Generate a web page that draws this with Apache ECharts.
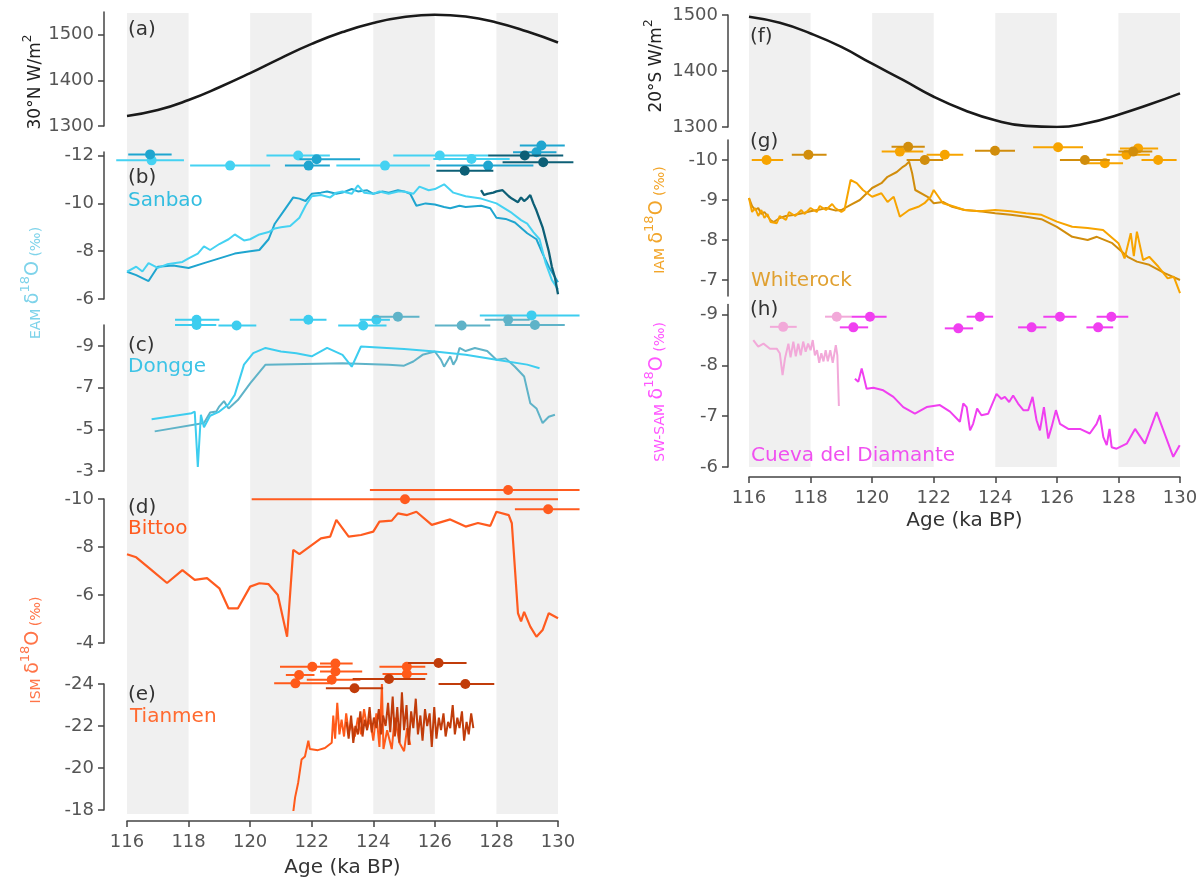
<!DOCTYPE html>
<html>
<head>
<meta charset="utf-8">
<script src="https://cdn.jsdelivr.net/npm/echarts@6.0.0/dist/echarts.min.js"></script>
<style>
  html, body { margin: 0; padding: 0; background: #fff; }
  #chart { width: 1200px; height: 881px; }
</style>
</head>
<body>
<div id="chart"></div>
<script>
// grey age bands (ka BP)
const bandRanges = [[116, 118], [120, 122], [124, 126], [128, 130]];

// (a) 30°N insolation and (f) 20°S insolation
const insol30N = [[116,1322],[117,1335],[118,1357],[119,1385],[120,1416],[121,1449],[122,1480],[123,1506],[124,1526],[125,1539],[126,1544],[127,1540],[128,1527],[129,1507],[130,1483]];
const insol20S = [[116,1497],[117,1486],[118,1467],[119,1443],[120,1413],[121,1384],[122,1354],[123,1330],[124,1312],[125,1302],[126,1300],[127,1307],[128,1322],[129,1340],[130,1360]];

// (b) Sanbao
const sanbaoLight = [[116.0,-7.14],[116.3,-7.35],[116.5,-7.15],[116.7,-7.5],[117.0,-7.3],[117.3,-7.45],[117.8,-7.55],[118.0,-7.7],[118.3,-7.9],[118.5,-8.2],[118.7,-8.05],[119.0,-8.3],[119.3,-8.5],[119.5,-8.7],[119.8,-8.45],[120.0,-8.5],[120.3,-8.7],[120.6,-8.8],[120.8,-8.95],[121.0,-9.0],[121.3,-9.05],[121.6,-9.4],[121.8,-9.9],[122.0,-10.3],[122.3,-10.35],[122.6,-10.25],[122.8,-10.45],[123.0,-10.5],[123.3,-10.4],[123.5,-10.75],[123.7,-10.45],[124.0,-10.4],[124.2,-10.5],[124.5,-10.4],[124.8,-10.5],[125.0,-10.5],[125.3,-10.4],[125.5,-10.7],[125.8,-10.55],[126.0,-10.6],[126.3,-10.8],[126.6,-10.45],[127.0,-10.3],[127.5,-10.2],[128.0,-10.0],[128.5,-9.6],[128.8,-9.3],[129.0,-9.15],[129.2,-8.8],[129.4,-8.5],[129.6,-7.5],[129.8,-6.8],[130.0,-6.4]];
const sanbaoMid = [[116.0,-7.14],[116.3,-7.0],[116.7,-6.75],[117.0,-7.35],[117.5,-7.4],[118.0,-7.3],[118.5,-7.5],[119.0,-7.7],[119.5,-7.9],[120.0,-8.0],[120.3,-8.05],[120.6,-8.5],[120.8,-9.15],[121.1,-9.7],[121.4,-10.25],[121.6,-10.2],[121.8,-10.1],[122.0,-10.4],[122.3,-10.45],[122.5,-10.5],[122.8,-10.4],[123.0,-10.45],[123.3,-10.6],[123.5,-10.5],[123.8,-10.55],[124.0,-10.4],[124.3,-10.5],[124.5,-10.45],[124.8,-10.55],[125.0,-10.5],[125.2,-10.4],[125.4,-9.9],[125.7,-10.0],[126.0,-9.95],[126.3,-9.85],[126.5,-9.8],[126.8,-9.9],[127.0,-9.85],[127.5,-9.9],[127.8,-9.8],[128.0,-9.4],[128.3,-9.35],[128.6,-9.2],[129.0,-8.75],[129.3,-8.5],[129.5,-7.9],[129.7,-7.35],[130.0,-6.7]];
const sanbaoDark = [[127.5,-10.55],[127.6,-10.35],[127.7,-10.4],[127.9,-10.45],[128.0,-10.5],[128.2,-10.55],[128.4,-10.3],[128.5,-10.2],[128.7,-10.05],[128.8,-10.25],[128.9,-10.1],[129.0,-10.2],[129.1,-10.35],[129.2,-10.0],[129.3,-9.7],[129.5,-9.0],[129.7,-8.0],[129.8,-7.35],[129.9,-6.9],[130.0,-6.2]];
// dates: [age, min, max, plotting row]
const sanbaoDatesLight = [[116.8,115.65,117.85,-11.8],[119.35,118.05,120.65,-11.58],[121.56,120.53,122.59,-12.0],[124.38,122.8,125.84,-11.58],[126.16,124.65,127.73,-12.0],[127.19,125.95,128.43,-11.86]];
const sanbaoDatesMid = [[116.75,116.04,117.45,-12.05],[121.9,121.13,122.59,-11.58],[122.16,121.6,123.57,-11.85],[127.73,126.05,129.2,-11.58],[129.46,128.76,130.22,-12.42],[129.3,128.54,129.95,-12.14]];
const sanbaoDatesDark = [[126.97,126.05,127.9,-11.37],[128.92,127.73,130.17,-12.0],[129.52,128.2,130.5,-11.72]];

// (c) Dongge
const donggeLight = [[116.8,-5.48],[118.1,-5.77],[118.2,-5.85],[118.3,-3.2],[118.4,-5.7],[118.5,-5.1],[118.7,-5.65],[119.0,-5.85],[119.3,-6.2],[119.5,-6.65],[119.8,-8.1],[120.1,-8.65],[120.5,-8.9],[121.0,-8.73],[121.5,-8.65],[122.0,-8.5],[122.5,-8.9],[123.0,-8.57],[123.3,-8.0],[123.6,-8.97],[125.0,-8.85],[126.0,-8.73],[127.0,-8.57],[128.0,-8.33],[129.0,-8.1],[129.4,-7.93]];
const donggeTeal = [[116.9,-4.9],[118.5,-5.3],[118.7,-5.8],[118.9,-5.85],[119.0,-6.1],[119.15,-6.35],[119.3,-6.0],[119.6,-6.4],[120.0,-7.2],[120.5,-8.1],[123.0,-8.17],[124.5,-8.1],[125.0,-8.05],[125.3,-8.25],[125.6,-8.57],[126.0,-8.73],[126.2,-8.33],[126.3,-8.0],[126.5,-8.5],[126.6,-8.1],[126.7,-8.35],[126.8,-8.9],[127.0,-8.75],[127.3,-8.9],[127.7,-8.75],[128.0,-8.33],[128.3,-8.4],[128.6,-8.0],[128.9,-7.53],[129.1,-6.25],[129.3,-6.0],[129.5,-5.3],[129.7,-5.6],[129.9,-5.7]];
const donggeDatesLight = [[118.26,117.56,119.0,-10.25],[118.26,117.56,118.9,-10.0],[119.56,118.97,120.2,-9.98],[121.89,121.29,122.48,-10.25],[123.67,122.86,124.43,-9.98],[124.1,123.56,124.54,-10.25],[129.14,127.46,130.7,-10.46]];
const donggeDatesTeal = [[124.8,124.0,125.5,-10.4],[126.87,126.0,127.8,-9.98],[128.38,127.62,129.08,-10.25],[129.25,128.27,130.22,-10.0]];

// (d) Bittoo
const bittoo = [[116.0,-7.7],[116.3,-7.57],[116.8,-7.04],[117.3,-6.5],[117.8,-7.04],[118.2,-6.63],[118.6,-6.7],[119.0,-6.28],[119.3,-5.44],[119.6,-5.44],[120.0,-6.35],[120.3,-6.49],[120.6,-6.45],[120.9,-6.0],[121.2,-4.26],[121.4,-7.88],[121.6,-7.7],[122.0,-8.08],[122.3,-8.36],[122.6,-8.43],[122.8,-9.13],[123.2,-8.43],[123.6,-8.5],[124.0,-8.64],[124.2,-9.06],[124.6,-9.1],[124.8,-9.4],[125.1,-9.33],[125.4,-9.47],[125.9,-8.92],[126.5,-9.15],[127.0,-8.85],[127.4,-9.0],[127.8,-8.88],[128.0,-9.47],[128.4,-9.33],[128.5,-8.99],[128.7,-5.24],[128.8,-4.9],[128.9,-5.3],[129.1,-4.68],[129.3,-4.26],[129.5,-4.54],[129.7,-5.24],[130.0,-5.03]];
const bittooDates = [[128.38,123.89,130.7,-10.375],[125.03,120.05,130.0,-9.99],[129.68,128.6,130.7,-9.57]];

// (e) Tianmen
const tianmenLight = [[121.4,-17.9],[121.46,-18.6],[121.56,-19.3],[121.67,-20.4],[121.78,-20.55],[121.89,-21.3],[121.94,-20.9],[122.2,-20.85],[122.43,-20.95],[122.65,-21.2],[122.7,-22.5],[122.76,-21.4],[122.83,-23.1],[122.9,-21.6],[122.97,-22.3],[123.05,-21.5],[123.12,-22.6],[123.2,-21.7],[123.3,-22.1],[123.4,-21.5],[123.5,-22.4],[123.6,-21.6],[123.7,-22.8],[123.8,-21.9],[123.9,-22.3],[124.0,-21.3],[124.1,-22.6],[124.2,-21.0],[124.28,-24.0],[124.33,-20.9],[124.45,-21.8],[124.6,-20.9],[124.7,-22.4],[124.85,-21.2],[125.0,-20.8],[125.1,-21.9],[125.2,-21.1]];
const tianmenDark = [[123.13,-22.2],[123.2,-21.4],[123.28,-22.5],[123.35,-21.2],[123.42,-22.0],[123.5,-21.6],[123.58,-22.7],[123.65,-21.5],[123.72,-22.3],[123.8,-21.8],[123.88,-22.9],[123.95,-21.7],[124.02,-22.4],[124.1,-21.9],[124.18,-22.8],[124.25,-21.6],[124.32,-22.5],[124.4,-22.0],[124.48,-23.1],[124.55,-21.7],[124.63,-23.4],[124.7,-21.5],[124.78,-22.9],[124.85,-21.2],[124.93,-23.6],[125.0,-21.8],[125.08,-23.0],[125.15,-21.1],[125.23,-22.7],[125.3,-21.9],[125.38,-23.3],[125.45,-21.6],[125.53,-22.5],[125.6,-21.3],[125.68,-22.8],[125.75,-22.0],[125.83,-22.6],[125.9,-21.0],[125.98,-22.9],[126.05,-21.4],[126.13,-22.4],[126.2,-21.8],[126.28,-22.6],[126.35,-21.5],[126.43,-22.2],[126.5,-21.9],[126.58,-23.0],[126.65,-21.6],[126.73,-22.4],[126.8,-21.9],[126.88,-22.7],[126.95,-21.3],[127.03,-22.2],[127.1,-21.6],[127.18,-22.6],[127.25,-21.9]];
const tianmenDatesLight = [[122.02,120.97,122.83,-24.82],[121.59,121.16,122.09,-24.43],[121.47,120.78,122.58,-24.03],[122.77,122.27,123.33,-24.98],[122.77,122.27,123.64,-24.6],[122.65,121.84,123.58,-24.2],[125.09,124.2,125.69,-24.82],[125.09,124.3,125.75,-24.48]];
const tianmenDatesDark = [[123.39,122.46,124.32,-23.8],[124.51,123.33,125.69,-24.24],[126.12,125.13,127.03,-25.0],[126.99,126.12,127.93,-24.0]];

// (g) Whiterock
const whiterockLight = [[116.0,-9.05],[116.1,-8.7],[116.2,-8.8],[116.3,-8.6],[116.4,-8.75],[116.5,-8.55],[116.6,-8.65],[116.7,-8.45],[116.9,-8.42],[117.0,-8.6],[117.2,-8.5],[117.3,-8.7],[117.5,-8.6],[117.7,-8.75],[117.8,-8.65],[118.0,-8.8],[118.2,-8.7],[118.3,-8.85],[118.5,-8.75],[118.7,-8.9],[118.8,-8.8],[119.0,-8.7],[119.1,-8.75],[119.3,-9.5],[119.5,-9.42],[119.7,-9.25],[120.0,-9.08],[120.3,-9.17],[120.5,-8.95],[120.7,-9.08],[120.9,-8.58],[121.2,-8.75],[121.5,-8.83],[121.7,-8.92],[121.9,-9.08],[122.0,-9.25],[122.3,-8.92],[122.6,-8.85],[123.0,-8.75],[123.5,-8.72],[124.0,-8.75],[124.5,-8.72],[125.0,-8.67],[125.5,-8.63],[126.0,-8.46],[126.5,-8.33],[127.0,-8.3],[127.5,-8.25],[128.0,-7.92],[128.2,-7.54],[128.4,-8.17],[128.5,-7.6],[128.6,-8.21],[128.8,-7.5],[129.0,-7.58],[129.3,-7.33],[129.6,-7.04],[129.8,-7.08],[130.0,-6.67]];
const whiterockDark = [[116.0,-9.05],[116.1,-8.85],[116.2,-8.75],[116.3,-8.8],[116.4,-8.65],[116.5,-8.7],[116.6,-8.6],[116.7,-8.5],[116.8,-8.45],[117.0,-8.55],[117.2,-8.6],[117.5,-8.63],[117.8,-8.68],[118.0,-8.72],[118.3,-8.76],[118.5,-8.8],[118.8,-8.74],[119.0,-8.75],[119.3,-8.88],[119.6,-9.0],[120.0,-9.3],[120.3,-9.42],[120.5,-9.58],[120.8,-9.7],[121.0,-9.83],[121.1,-9.88],[121.2,-9.96],[121.3,-9.67],[121.4,-9.25],[121.8,-9.08],[122.0,-8.92],[122.3,-8.95],[122.6,-8.83],[123.0,-8.75],[123.5,-8.72],[124.0,-8.67],[124.5,-8.63],[125.0,-8.58],[125.5,-8.52],[126.0,-8.33],[126.5,-8.08],[127.0,-8.0],[127.3,-8.08],[127.8,-7.92],[128.3,-7.58],[128.6,-7.46],[129.0,-7.38],[129.5,-7.17],[130.0,-7.0]];
const whiterockDatesLight = [[116.57,116.09,117.11,-10.0],[120.9,120.31,121.66,-10.21],[122.36,121.77,122.96,-10.13],[126.04,125.23,126.85,-10.32],[127.56,126.96,128.15,-9.92],[128.26,127.61,129.02,-10.13],[128.64,128.05,129.29,-10.29],[129.29,128.75,129.89,-10.0]];
const whiterockDatesDark = [[117.93,117.39,118.52,-10.13],[121.17,120.63,121.71,-10.33],[121.71,121.12,122.31,-10.0],[123.99,123.34,124.64,-10.23],[126.91,126.1,127.72,-10.0],[128.48,128.0,129.1,-10.21]];

// (h) Cueva del Diamante
const diamantePink = [[116.14,-8.5],[116.3,-8.37],[116.47,-8.43],[116.68,-8.33],[116.9,-8.33],[117.0,-8.24],[117.09,-7.81],[117.17,-8.14],[117.28,-8.43],[117.35,-8.16],[117.44,-8.47],[117.52,-8.18],[117.6,-8.43],[117.68,-8.2],[117.76,-8.47],[117.84,-8.27],[117.92,-8.43],[118.0,-8.3],[118.07,-8.5],[118.14,-8.2],[118.21,-8.3],[118.28,-8.05],[118.35,-8.24],[118.42,-8.08],[118.49,-8.3],[118.56,-8.08],[118.64,-8.3],[118.72,-8.05],[118.82,-8.4],[118.87,-8.2],[118.92,-7.2]];
const diamanteMain = [[119.44,-7.74],[119.55,-7.68],[119.66,-7.94],[119.73,-7.77],[119.82,-7.54],[120.04,-7.56],[120.36,-7.51],[120.69,-7.38],[121.01,-7.18],[121.39,-7.05],[121.77,-7.18],[122.2,-7.22],[122.53,-7.09],[122.85,-6.89],[122.96,-7.25],[123.07,-7.18],[123.18,-6.72],[123.28,-6.85],[123.41,-7.15],[123.55,-7.02],[123.77,-7.05],[124.04,-7.44],[124.2,-7.34],[124.31,-7.38],[124.45,-7.28],[124.58,-7.41],[124.74,-7.25],[124.91,-7.12],[125.07,-7.12],[125.21,-7.38],[125.34,-6.92],[125.45,-6.72],[125.58,-7.18],[125.72,-6.56],[125.83,-6.79],[125.97,-7.12],[126.1,-6.85],[126.37,-6.75],[126.75,-6.75],[127.07,-6.66],[127.29,-6.85],[127.4,-7.02],[127.51,-6.59],[127.62,-6.43],[127.71,-6.75],[127.78,-6.39],[127.94,-6.36],[128.27,-6.46],[128.54,-6.75],[128.86,-6.46],[129.24,-7.08],[129.78,-6.2],[129.99,-6.43]];
const diamanteDatesPink = [[117.11,116.68,117.55,-8.76],[118.85,118.47,119.33,-8.96]];
const diamanteDatesMain = [[119.93,119.33,120.47,-8.96],[119.39,118.95,119.87,-8.75],[122.8,122.36,123.28,-8.73],[123.5,123.07,123.93,-8.96],[125.18,124.74,125.66,-8.75],[126.1,125.56,126.64,-8.96],[127.34,126.96,127.83,-8.75],[127.77,127.29,128.32,-8.96]];

// tick values
const insolTicks = [1300, 1400, 1500];
const sanbaoTicks = [-12, -10, -8, -6];
const donggeTicks = [-9, -7, -5, -3];
const bittooTicks = [-10, -8, -6, -4];
const tianmenTicks = [-24, -22, -20, -18];
const whiterockTicks = [-10, -9, -8, -7];
const diamanteTicks = [-9, -8, -7, -6];

const chart = echarts.init(document.getElementById('chart'));
const FONT = 'DejaVu Sans';
const AXIS_COLOR = '#444';

// grid layout: 0 band bg left, 1-5 panels a-e, 6 band bg right, 7-9 panels f-h
const L = { left: 127, width: 431 };
const R = { left: 749, width: 431 };
const grids = [
  Object.assign({ top: 13, height: 801 }, L),
  Object.assign({ top: 12, height: 114 }, L),
  Object.assign({ top: 152, height: 147 }, L),
  Object.assign({ top: 325, height: 146 }, L),
  Object.assign({ top: 499, height: 144 }, L),
  Object.assign({ top: 684, height: 126 }, L),
  Object.assign({ top: 13, height: 454 }, R),
  Object.assign({ top: 15, height: 112 }, R),
  Object.assign({ top: 140, height: 156 }, R),
  Object.assign({ top: 304.5, height: 162.5 }, R)
].map(g => Object.assign({ outerBoundsMode: 'none', containLabel: false }, g));

function xAx(i, offset, gap) {
  if (offset === undefined) {
    return { gridIndex: i, type: 'value', min: 116, max: 130, show: false };
  }
  return {
    gridIndex: i, type: 'value', min: 116, max: 130, interval: 2, offset: offset,
    axisLine: { show: true, lineStyle: { color: AXIS_COLOR, width: 1.5 } },
    axisTick: { show: true, length: 6, lineStyle: { color: AXIS_COLOR, width: 1.5 } },
    axisLabel: { fontSize: 18, color: '#555', margin: 12, fontFamily: FONT },
    splitLine: { show: false },
    name: 'Age (ka BP)', nameLocation: 'middle', nameGap: gap,
    nameTextStyle: { fontSize: 20, color: '#333', fontFamily: FONT }
  };
}

function yAx(i, min, max, ticks, inverse, offset) {
  if (!ticks) {
    return { gridIndex: i, type: 'value', min: 0, max: 1, show: false };
  }
  return {
    gridIndex: i, type: 'value', min: min, max: max, inverse: inverse, offset: offset,
    axisLine: { show: true, lineStyle: { color: AXIS_COLOR, width: 1.5 } },
    axisTick: { show: true, length: 6, customValues: ticks, lineStyle: { color: AXIS_COLOR, width: 1.5 } },
    axisLabel: { customValues: ticks, fontSize: 18, color: '#555', margin: 10, fontFamily: FONT,
      formatter: v => String(v) },
    splitLine: { show: false }
  };
}

function bandItem(params, api) {
  const p0 = api.coord([api.value(0), 1]);
  const p1 = api.coord([api.value(1), 0]);
  return { type: 'rect', shape: { x: p0[0], y: p0[1], width: p1[0] - p0[0], height: p1[1] - p0[1] },
    style: { fill: '#f0f0f0' } };
}

function dateItem(params, api) {
  const y = api.value(3);
  const a = api.coord([api.value(1), y]);
  const b = api.coord([api.value(2), y]);
  const c = api.coord([api.value(0), y]);
  const color = api.visual('color');
  return { type: 'group', children: [
    { type: 'line', shape: { x1: a[0], y1: a[1], x2: b[0], y2: b[1] }, style: { stroke: color, lineWidth: 2 } },
    { type: 'circle', shape: { cx: c[0], cy: c[1], r: 5 }, style: { fill: color } }
  ] };
}

function bands(i) {
  return { type: 'custom', xAxisIndex: i, yAxisIndex: i, data: bandRanges, renderItem: bandItem,
    silent: true, z: 0, encode: { x: [0, 1] } };
}

function line(i, data, color, width) {
  return { type: 'line', xAxisIndex: i, yAxisIndex: i, data: data, showSymbol: false, symbol: 'none',
    lineStyle: { color: color, width: width || 2 }, itemStyle: { color: color }, z: 3, silent: true };
}

function dates(i, data, color) {
  return { type: 'custom', xAxisIndex: i, yAxisIndex: i, data: data, renderItem: dateItem,
    itemStyle: { color: color }, encode: { x: [0, 1, 2], y: 3 }, clip: false, z: 4, silent: true };
}

function label(x, y, text, color) {
  return { type: 'text', x: x, y: y, z: 10, silent: true,
    style: { text: text, fill: color, fontSize: 20, fontFamily: FONT, textAlign: 'left', textVerticalAlign: 'middle' } };
}

function axisTitle(x, y, text, color, rich) {
  return { type: 'text', x: x, y: y, rotation: Math.PI / 2, z: 10, silent: true,
    style: { text: text, fill: color, fontFamily: FONT, textAlign: 'center', textVerticalAlign: 'middle', rich: rich } };
}

function deltaRich(color, small) {
  return {
    s: { fontSize: small, fill: color, fontFamily: FONT, lineHeight: 24, verticalAlign: 'bottom' },
    b: { fontSize: 19, fill: color, fontFamily: FONT, lineHeight: 24, verticalAlign: 'bottom' },
    u: { fontSize: 13, fill: color, fontFamily: FONT, lineHeight: 14, verticalAlign: 'top' }
  };
}
function insolRich(color) {
  return {
    t: { fontSize: 17, fill: color, fontFamily: FONT, lineHeight: 22, verticalAlign: 'bottom' },
    u: { fontSize: 12, fill: color, fontFamily: FONT, lineHeight: 12, verticalAlign: 'top' }
  };
}

const option = {
  animation: false,
  backgroundColor: '#ffffff',
  textStyle: { fontFamily: FONT },
  grid: grids,
  xAxis: [
    xAx(0), xAx(1), xAx(2), xAx(3), xAx(4), xAx(5, 11, 37),
    xAx(6), xAx(7), xAx(8), xAx(9, 10, 34)
  ],
  yAxis: [
    yAx(0),
    yAx(1, 1300, 1550, insolTicks, false, 23),
    yAx(2, -12.15, -6, sanbaoTicks, true, 23),
    yAx(3, -10, -3, donggeTicks, true, 23),
    yAx(4, -10, -4, bittooTicks, true, 23),
    yAx(5, -24, -18, tianmenTicks, true, 23),
    yAx(6),
    yAx(7, 1300, 1500, insolTicks, false, 21),
    yAx(8, -10.5, -6.6, whiterockTicks, true, 21),
    yAx(9, -9.2, -6, diamanteTicks, true, 21)
  ],
  series: [
    bands(0), bands(6),
    Object.assign(line(1, insol30N, '#1a1a1a', 2.6), { smooth: true }),
    line(2, sanbaoMid, '#1fa5cf'),
    line(2, sanbaoLight, '#45d2f2'),
    line(2, sanbaoDark, '#0d5f76', 2.3),
    dates(2, sanbaoDatesLight, '#45d2f2'),
    dates(2, sanbaoDatesMid, '#1fa5cf'),
    dates(2, sanbaoDatesDark, '#0d5f76'),
    line(3, donggeTeal, '#5fb3c8'),
    line(3, donggeLight, '#3dcdef'),
    dates(3, donggeDatesLight, '#3dcdef'),
    dates(3, donggeDatesTeal, '#5fb3c8'),
    line(4, bittoo, '#ff5b1f', 2.2),
    dates(4, bittooDates, '#ff5b1f'),
    line(5, tianmenLight, '#ff5a1a'),
    line(5, tianmenDark, '#c13c0a'),
    dates(5, tianmenDatesLight, '#ff5a1a'),
    dates(5, tianmenDatesDark, '#c13c0a'),
    Object.assign(line(7, insol20S, '#1a1a1a', 2.6), { smooth: true }),
    line(8, whiterockDark, '#d18d0c'),
    line(8, whiterockLight, '#f7a400'),
    dates(8, whiterockDatesLight, '#f7a400'),
    dates(8, whiterockDatesDark, '#d18d0c'),
    line(9, diamantePink, '#f2a9d9'),
    line(9, diamanteMain, '#f03ff0'),
    dates(9, diamanteDatesPink, '#f2a9d9'),
    dates(9, diamanteDatesMain, '#f03ff0')
  ],
  graphic: [
    label(128, 30, '(a)', '#333'),
    label(128, 178, '(b)', '#333'),
    label(128, 201, 'Sanbao', '#33bde0'),
    label(128, 346, '(c)', '#333'),
    label(128, 367, 'Dongge', '#3cc3e6'),
    label(128, 508, '(d)', '#333'),
    label(128, 529, 'Bittoo', '#ff5b1f'),
    label(128, 695, '(e)', '#333'),
    label(130, 717, 'Tianmen', '#ff6a30'),
    label(750, 37, '(f)', '#333'),
    label(750, 142, '(g)', '#333'),
    label(751, 281, 'Whiterock', '#e0a030'),
    label(750, 310, '(h)', '#333'),
    label(751, 456, 'Cueva del Diamante', '#f050f0'),
    axisTitle(33, 82, '{t|30°N W/m}{u|2}', '#222', insolRich('#222')),
    axisTitle(654, 66, '{t|20°S W/m}{u|2}', '#222', insolRich('#222')),
    axisTitle(31, 283, '{s|EAM }{b|δ}{u|18}{b|O}{s| (‰)}', '#7ed3ea', deltaRich('#7ed3ea', 14)),
    axisTitle(31, 650, '{s|ISM }{b|δ}{u|18}{b|O}{s| (‰)}', '#ff7448', deltaRich('#ff7448', 14)),
    axisTitle(655, 220, '{s|IAM }{b|δ}{u|18}{b|O}{s| (‰)}', '#f2a52a', deltaRich('#f2a52a', 14)),
    axisTitle(655, 392, '{s|SW-SAM }{b|δ}{u|18}{b|O}{s| (‰)}', '#ff55ff', deltaRich('#ff55ff', 14))
  ]
};

chart.setOption(option);
</script>
</body>
</html>
